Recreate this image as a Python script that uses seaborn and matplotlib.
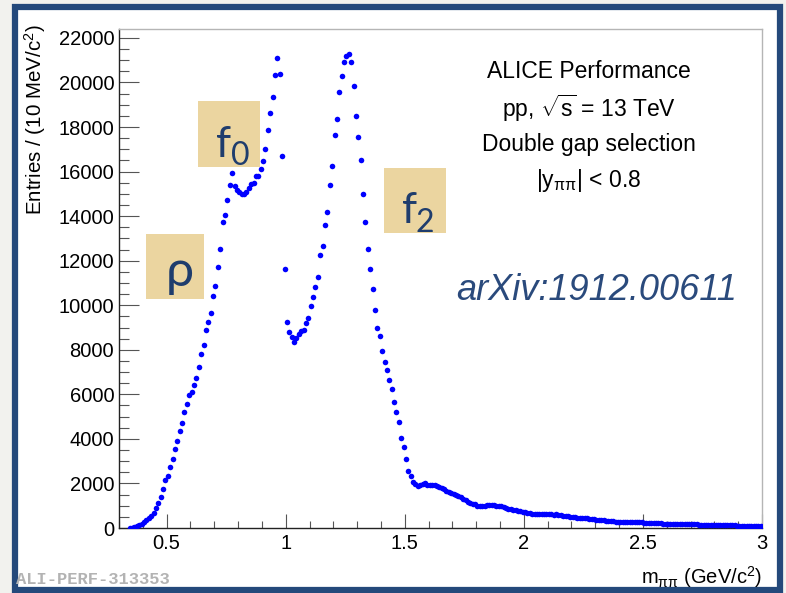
import numpy as np
import pandas as pd
import matplotlib
matplotlib.use("Agg")
import matplotlib.pyplot as plt
from matplotlib.patches import Rectangle
from matplotlib.ticker import MultipleLocator
import seaborn as sns

# ---------------- data (10 MeV bins, first bin centre 0.345 GeV) ----------------
bin_start = 0.345
bin_width = 0.01
counts = [
    5, 20, 60, 95, 140, 190, 260, 350, 440, 540,            # 0.345-0.435
    680, 880, 1100, 1400, 1750, 2150, 2350, 2750, 3100, 3550,  # 0.445-0.535
    3900, 4350, 4700, 5200, 5550, 5950, 6100, 6400, 6750, 7240,  # 0.545-0.635
    7800, 8200, 8900, 9250, 9670, 10430, 10880, 11710, 12540, 13730,  # 0.645-0.735
    14040, 14730, 15400, 15930, 15330, 15180, 15100, 15000, 15000, 15100,  # 0.745-0.835
    15280, 15450, 15500, 15780, 15820, 16110, 16480, 17030, 17880, 18630,  # 0.845-0.935
    19340, 20350, 21120, 20400, 16700, 11640, 9240, 8790, 8590, 8340,  # 0.945-1.035
    8520, 8710, 8850, 8890, 9190, 9440, 9980, 10360, 10820, 11260,  # 1.045-1.135
    12260, 12660, 13590, 14200, 15400, 16260, 17650, 18370, 19580, 20280,  # 1.145-1.235
    20900, 21200, 21300, 20900, 19850, 18490, 17530, 16540, 15000, 13740,  # 1.245-1.335
    12540, 11640, 10720, 9790, 8990, 8630, 7950, 7470, 7080, 6630,  # 1.345-1.435
    6260, 5660, 5210, 4770, 4040, 3620, 3110, 2560, 2320, 2070,  # 1.445-1.535
    1980, 1890, 1950, 1990, 2000, 1920, 1950, 1930, 1910, 1870,  # 1.545-1.635
    1840, 1790, 1740, 1680, 1630, 1580, 1520, 1490, 1450, 1390,  # 1.645-1.735
    1300, 1250, 1160, 1130, 1090, 1060, 1010, 1000, 990, 1000,  # 1.745-1.835
    1020, 1030, 1020, 1030, 1010, 990, 970, 940, 910, 870,  # 1.845-1.935
    850, 820, 790, 770, 760, 740, 720, 690, 660, 650,  # 1.945-2.035
    640, 620, 640, 620, 610, 620, 630, 610, 600, 610,  # 2.045-2.135
    580, 570, 560, 540, 530, 510, 490, 480, 470, 460,  # 2.145-2.235
    450, 440, 430, 420, 410, 400, 380, 370, 360, 350,  # 2.245-2.335
    330, 320, 310, 300, 290, 280, 280, 270, 275, 270,  # 2.345-2.435
    265, 260, 260, 255, 260, 250, 245, 240, 230, 225,  # 2.445-2.535
    220, 215, 210, 205, 200, 190, 190, 185, 180, 180,  # 2.545-2.635
    175, 180, 175, 170, 170, 165, 170, 165, 160, 150,  # 2.645-2.735
    150, 155, 150, 145, 140, 130, 135, 130, 130, 125,  # 2.745-2.835
    120, 120, 125, 115, 120, 110, 100, 105, 100, 100,  # 2.845-2.935
    95, 90, 95, 90, 85, 90,                            # 2.945-2.995
]
mass = bin_start + bin_width * np.arange(len(counts))
df = pd.DataFrame({"m": mass, "entries": counts})

x_ticks = [0.5, 1, 1.5, 2, 2.5, 3]
x_tick_labels = ["0.5", "1", "1.5", "2", "2.5", "3"]
y_ticks = list(range(0, 22001, 2000))

info_lines = ["ALICE Performance",
              r"pp, $\sqrt{\mathregular{s}}$ = 13 TeV",
              "Double gap selection",
              r"|y$_{\mathregular{\pi\pi}}$| < 0.8"]

# ---------------- figure ----------------
sns.set_theme(style="ticks")
plt.rcParams["font.family"] = ["Liberation Sans", "DejaVu Sans"]
plt.rcParams["mathtext.fontset"] = "custom"
plt.rcParams["mathtext.rm"] = "Liberation Sans"
plt.rcParams["mathtext.it"] = "Liberation Sans:italic"

W, H = 786, 593
fig = plt.figure(figsize=(W / 100, H / 100), dpi=100)
fig.patch.set_facecolor("#f2f2ee")

def P(x, y):
    return (x / W, 1 - y / H)

# white panel with dark-blue frame
fig.add_artist(Rectangle(P(15, 590), 765 / W, 583 / H, transform=fig.transFigure,
                         facecolor="white", edgecolor="#24497b", linewidth=4.5, zorder=0))

l, r, t, b = 119, 762, 29, 528
ax = fig.add_axes([l / W, 1 - b / H, (r - l) / W, (b - t) / H])
ax.set_facecolor("white")

sns.scatterplot(data=df, x="m", y="entries", ax=ax, color="#0000ff",
                s=16, linewidth=0, marker="o", zorder=3, legend=False)

ax.set_xlim(0.3, 3.0)
ax.set_ylim(0, 22400)
ax.set_xticks(x_ticks)
ax.set_xticklabels(x_tick_labels)
ax.set_yticks(y_ticks)
ax.xaxis.set_minor_locator(MultipleLocator(0.1))
ax.yaxis.set_minor_locator(MultipleLocator(500))
ax.set_xlabel("")
ax.set_ylabel("")

for s in ["left", "bottom"]:
    ax.spines[s].set_color("#222222")
    ax.spines[s].set_linewidth(1.0)
for s in ["top", "right"]:
    ax.spines[s].set_visible(True)
    ax.spines[s].set_color("#b5b5b5")
    ax.spines[s].set_linewidth(1.0)

ax.tick_params(axis="y", which="major", direction="in", length=14.4, width=0.8,
               color="#555555", labelsize=14.5, pad=3.5, labelcolor="black")
ax.tick_params(axis="y", which="minor", direction="in", length=7.2, width=0.8, color="#555555")
ax.tick_params(axis="x", which="major", direction="in", length=10.3, width=0.8,
               color="#555555", labelsize=14.5, pad=4, labelcolor="black")
ax.tick_params(axis="x", which="minor", direction="in", length=5, width=0.8, color="#555555")

# axis titles (ROOT style, right/top aligned)
fig.text(*P(35, 24), r"Entries / (10 MeV/$\mathregular{c^2}$)", rotation=90,
         ha="center", va="top", fontsize=14.8, color="black")
fig.text(*P(762, 577), r"m$_{\mathregular{\pi\pi}}$ (GeV/$\mathregular{c^2}$)",
         ha="right", va="center", fontsize=14.5, color="black")

# info block
for txt, yy in zip(info_lines, [71, 108, 144, 180]):
    fig.text(*P(589, yy), txt, ha="center", va="center", fontsize=16.5, color="black")

# arXiv reference
fig.text(*P(597, 290), "arXiv:1912.00611", ha="center", va="center",
         fontsize=26, style="italic", color="#2a4a7c", family=["Liberation Sans"])

# resonance labels in tan boxes
box_col = "#ebd5a0"
lab_col = "#1f3d6d"
for (x0, y0, x1, y1) in [(146, 234, 204, 299), (198, 101, 260, 167), (384, 168, 446, 233)]:
    fig.add_artist(Rectangle(P(x0, y1), (x1 - x0) / W, (y1 - y0) / H,
                             transform=fig.transFigure, facecolor=box_col,
                             edgecolor="none", zorder=1))
fig.text(*P(166, 286), "ρ", ha="left", va="baseline", fontsize=36, color=lab_col,
         family=["Lato", "DejaVu Sans"], zorder=5)
fig.text(*P(216, 157), "f", ha="left", va="baseline", fontsize=31, color=lab_col,
         family=["Lato", "DejaVu Sans"], zorder=5)
fig.text(*P(231, 165), "0", ha="left", va="baseline", fontsize=23, color=lab_col,
         family=["Lato", "DejaVu Sans"], zorder=5)
fig.text(*P(402, 223), "f", ha="left", va="baseline", fontsize=31, color=lab_col,
         family=["Lato", "DejaVu Sans"], zorder=5)
fig.text(*P(416, 232), "2", ha="left", va="baseline", fontsize=23, color=lab_col,
         family=["Lato", "DejaVu Sans"], zorder=5)

# watermark
fig.text(*P(16, 579), "ALI-PERF-313353", ha="left", va="center", fontsize=12.3,
         color="#b3b3b3", fontweight="bold", family=["Liberation Mono", "DejaVu Sans Mono"])

fig.savefig("out.png", dpi=100, facecolor=fig.get_facecolor())
